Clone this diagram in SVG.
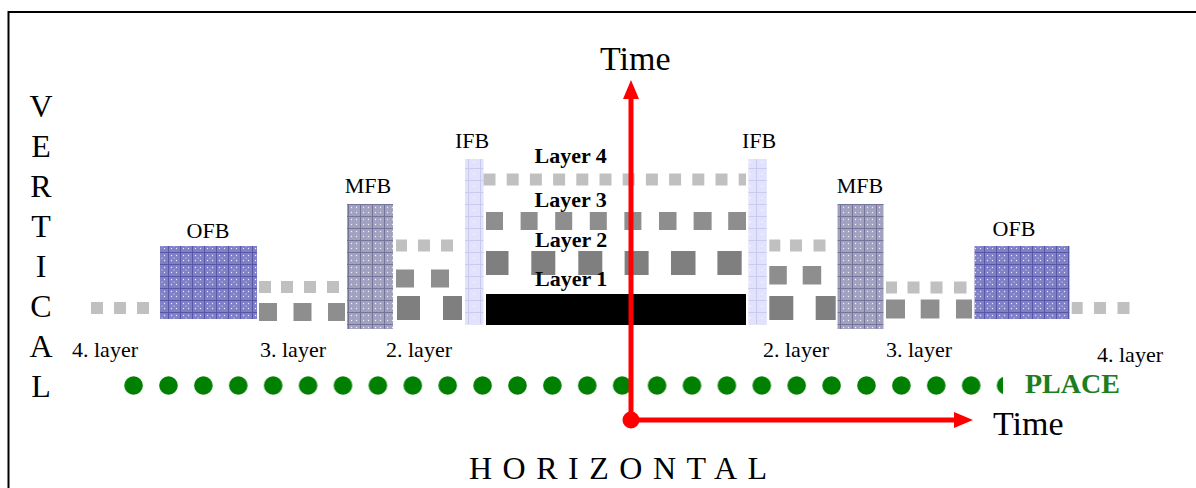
<svg xmlns="http://www.w3.org/2000/svg" width="1196" height="488" viewBox="0 0 1196 488">
  <style>
    .serif { font-family: "Liberation Serif", "Times New Roman", serif; fill: #000; }
    .tag { font-size: 22px; }
    .axis-lbl { font-size: 34px; }
    .side { font-size: 32px; text-anchor: middle; }
    .layer-lbl { font-size: 22px; font-weight: bold; }
    .lt { fill: #c0c0c0; }
    .md { fill: #8e8e8e; }
    .dk { fill: #7f7f7f; }
    .axis { stroke: #ff0000; stroke-width: 5; fill: none; }
  </style>
  <defs>
    <!-- outer buffer: dense blue mesh -->
    <pattern id="ofbPat" patternUnits="userSpaceOnUse" width="12" height="12">
      <rect width="12" height="12" fill="#8080c6"/>
      <path d="M0 0.5H12M0.5 0V12" stroke="#5656a6" stroke-width="1"/>
      <g fill="#ffffff" opacity="0.85">
        <circle cx="3.5" cy="3.5" r="0.7"/><circle cx="8.5" cy="3.5" r="0.7"/>
        <circle cx="3.5" cy="8.5" r="0.7"/><circle cx="8.5" cy="8.5" r="0.7"/>
        <circle cx="6" cy="6" r="0.6"/>
      </g>
    </pattern>
    <!-- middle buffer: greyish mesh -->
    <pattern id="mfbPat" patternUnits="userSpaceOnUse" width="12" height="12">
      <rect width="12" height="12" fill="#a2a2c0"/>
      <path d="M0 0.5H12M0.5 0V12" stroke="#74749a" stroke-width="1"/>
      <g fill="#ffffff" opacity="0.85">
        <circle cx="3.5" cy="3.5" r="0.7"/><circle cx="8.5" cy="3.5" r="0.7"/>
        <circle cx="3.5" cy="8.5" r="0.7"/><circle cx="8.5" cy="8.5" r="0.7"/>
      </g>
    </pattern>
    <!-- inner buffer: pale lavender mesh -->
    <pattern id="ifbPat" patternUnits="userSpaceOnUse" width="12" height="12">
      <rect width="12" height="12" fill="#e2e2fc"/>
      <path d="M0 0.5H12M0.5 0V12" stroke="#cacaee" stroke-width="1"/>
      <circle cx="6" cy="6" r="0.7" fill="#ffffff"/>
    </pattern>
    <!-- row of place markers -->
    <pattern id="placeDots" patternUnits="userSpaceOnUse" x="116.15" y="376" width="34.9" height="19">
      <circle cx="17.45" cy="9.5" r="9.3" fill="#008000"/>
    </pattern>
  </defs>

  <rect width="1196" height="488" fill="#ffffff"/>
  <!-- frame -->
  <rect x="8.5" y="12" width="1300" height="600" fill="none" stroke="#000" stroke-width="2"/>

  <!-- vertical axis caption -->
  <g id="vertical-caption" class="serif">
    <text class="side" x="41" y="117">V</text>
    <text class="side" x="41" y="157">E</text>
    <text class="side" x="41" y="197">R</text>
    <text class="side" x="41" y="237">T</text>
    <text class="side" x="41" y="277">I</text>
    <text class="side" x="41" y="317">C</text>
    <text class="side" x="41" y="357">A</text>
    <text class="side" x="41" y="397">L</text>
  </g>

  <!-- left 4th layer -->
  <g id="layer4-left">
    <rect class="lt" x="91" y="302" width="12" height="12"/>
    <rect class="lt" x="114" y="302" width="12" height="12"/>
    <rect class="lt" x="137" y="302" width="12" height="12"/>
    <text class="serif tag" x="72" y="357">4. layer</text>
  </g>

  <g id="ofb-left">
    <rect x="160" y="246" width="97" height="73" fill="url(#ofbPat)"/>
    <text class="serif tag" x="208" y="238" text-anchor="middle">OFB</text>
  </g>

  <g id="layer3-left">
    <rect class="lt" x="259" y="281" width="12" height="12"/>
    <rect class="lt" x="281" y="281" width="12" height="12"/>
    <rect class="lt" x="304" y="281" width="12" height="12"/>
    <rect class="lt" x="327" y="281" width="12" height="12"/>
    <rect class="md" x="259" y="303" width="18" height="18"/>
    <rect class="md" x="293.5" y="303" width="18" height="18"/>
    <rect class="md" x="328" y="303" width="17" height="18"/>
    <text class="serif tag" x="260" y="357">3. layer</text>
  </g>

  <g id="mfb-left">
    <rect x="347" y="204" width="46" height="125" fill="url(#mfbPat)"/>
    <text class="serif tag" x="368" y="193" text-anchor="middle">MFB</text>
  </g>

  <g id="layer2-left">
    <rect class="lt" x="396" y="239.5" width="11" height="12"/>
    <rect class="lt" x="418" y="239.5" width="12" height="12"/>
    <rect class="lt" x="441" y="239.5" width="12" height="12"/>
    <rect class="md" x="396" y="269.5" width="18" height="18"/>
    <rect class="md" x="431" y="269.5" width="18" height="18"/>
    <rect class="dk" x="397" y="296" width="23" height="24"/>
    <rect class="dk" x="443" y="296" width="19" height="24"/>
    <text class="serif tag" x="386" y="357">2. layer</text>
  </g>

  <g id="ifb-left">
    <rect x="465" y="159" width="18.5" height="165.5" fill="url(#ifbPat)"/>
    <text class="serif tag" x="472" y="148" text-anchor="middle">IFB</text>
  </g>

  <!-- central layers -->
  <g id="layer4">
    <rect class="lt" x="483.5" y="173.5" width="12" height="12"/>
    <rect class="lt" x="506.7" y="173.5" width="12" height="12"/>
    <rect class="lt" x="529.9" y="173.5" width="12" height="12"/>
    <rect class="lt" x="553.1" y="173.5" width="12" height="12"/>
    <rect class="lt" x="576.3" y="173.5" width="12" height="12"/>
    <rect class="lt" x="599.5" y="173.5" width="12" height="12"/>
    <rect class="lt" x="622.7" y="173.5" width="12" height="12"/>
    <rect class="lt" x="645.9" y="173.5" width="12" height="12"/>
    <rect class="lt" x="669.1" y="173.5" width="12" height="12"/>
    <rect class="lt" x="692.3" y="173.5" width="12" height="12"/>
    <rect class="lt" x="715.5" y="173.5" width="12" height="12"/>
    <rect class="lt" x="738.7" y="173.5" width="7.3" height="12"/>
    <text class="serif layer-lbl" x="534.5" y="163">Layer 4</text>
  </g>

  <g id="layer3">
    <rect class="md" x="486" y="212" width="17" height="18"/>
    <rect class="md" x="520.6" y="212" width="17" height="18"/>
    <rect class="md" x="555.2" y="212" width="17" height="18"/>
    <rect class="md" x="589.8" y="212" width="17" height="18"/>
    <rect class="md" x="624.4" y="212" width="17" height="18"/>
    <rect class="md" x="659" y="212" width="17.5" height="18"/>
    <rect class="md" x="693.6" y="212" width="18" height="18"/>
    <rect class="md" x="728.2" y="212" width="17.8" height="18"/>
    <text class="serif layer-lbl" x="534.5" y="207">Layer 3</text>
  </g>

  <g id="layer2">
    <rect class="dk" x="486" y="251" width="22.5" height="24"/>
    <rect class="dk" x="531.3" y="251" width="24" height="24"/>
    <rect class="dk" x="578.3" y="251" width="24" height="24"/>
    <rect class="dk" x="624.6" y="251" width="24" height="24"/>
    <rect class="dk" x="671" y="251" width="24.5" height="24"/>
    <rect class="dk" x="717.4" y="251" width="24.3" height="24"/>
    <text class="serif layer-lbl" x="535" y="247">Layer 2</text>
  </g>

  <g id="layer1">
    <rect x="486" y="294" width="260" height="31" fill="#000"/>
    <text class="serif layer-lbl" x="535" y="286">Layer 1</text>
  </g>

  <g id="ifb-right">
    <rect x="748.3" y="159" width="18.5" height="165.5" fill="url(#ifbPat)"/>
    <text class="serif tag" x="759" y="148" text-anchor="middle">IFB</text>
  </g>

  <g id="layer2-right">
    <rect class="lt" x="769.3" y="239.5" width="11" height="12"/>
    <rect class="lt" x="790" y="239.5" width="12" height="12"/>
    <rect class="lt" x="813.5" y="239.5" width="12" height="12"/>
    <rect class="md" x="769.3" y="266" width="17.5" height="18.5"/>
    <rect class="md" x="802.7" y="266" width="18.5" height="18.5"/>
    <rect class="dk" x="769.3" y="296" width="24" height="24"/>
    <rect class="dk" x="815.7" y="296" width="20" height="24"/>
    <text class="serif tag" x="763" y="357">2. layer</text>
  </g>

  <g id="mfb-right">
    <rect x="837.5" y="204" width="46" height="125" fill="url(#mfbPat)"/>
    <text class="serif tag" x="860" y="193" text-anchor="middle">MFB</text>
  </g>

  <g id="layer3-right">
    <rect class="lt" x="886" y="281.5" width="11" height="12"/>
    <rect class="lt" x="907.5" y="281.5" width="12" height="12"/>
    <rect class="lt" x="930.5" y="281.5" width="12" height="12"/>
    <rect class="lt" x="954" y="281.5" width="12.5" height="12"/>
    <rect class="md" x="886" y="299.5" width="19" height="19"/>
    <rect class="md" x="920.7" y="299.5" width="18.7" height="19"/>
    <rect class="md" x="956" y="299.5" width="16" height="19"/>
    <text class="serif tag" x="886" y="357">3. layer</text>
  </g>

  <g id="ofb-right">
    <rect x="974.5" y="246" width="95" height="73" fill="url(#ofbPat)"/>
    <text class="serif tag" x="1014" y="236" text-anchor="middle">OFB</text>
  </g>

  <g id="layer4-right">
    <rect class="lt" x="1071.7" y="302" width="11" height="12"/>
    <rect class="lt" x="1094" y="302" width="12" height="12"/>
    <rect class="lt" x="1117.5" y="302" width="12" height="12"/>
    <text class="serif tag" x="1097" y="362">4. layer</text>
  </g>

  <!-- place row -->
  <g id="place">
    <rect x="124" y="376" width="879" height="19" fill="url(#placeDots)"/>
    <text x="1025" y="393" font-family="Liberation Serif, serif" font-size="28" font-weight="bold" fill="#1c7e1c">PLACE</text>
  </g>

  <!-- time axes -->
  <g id="connectors">
    <line class="axis" x1="631" y1="420" x2="631" y2="96"/>
    <polygon points="631,80 623,99 639,99" fill="#ff0000"/>
    <line class="axis" x1="631" y1="420" x2="956" y2="420"/>
    <polygon points="973,420 954,412 954,428" fill="#ff0000"/>
    <circle cx="631" cy="420" r="8.5" fill="#ff0000"/>
  </g>

  <g id="time-labels" class="serif">
    <text class="axis-lbl" x="600" y="70">Time</text>
    <text class="axis-lbl" x="993" y="435">Time</text>
  </g>

  <g id="horizontal-caption">
    <text class="serif" x="469" y="479" font-size="32" letter-spacing="10.5">HORIZONTAL</text>
  </g>
</svg>
